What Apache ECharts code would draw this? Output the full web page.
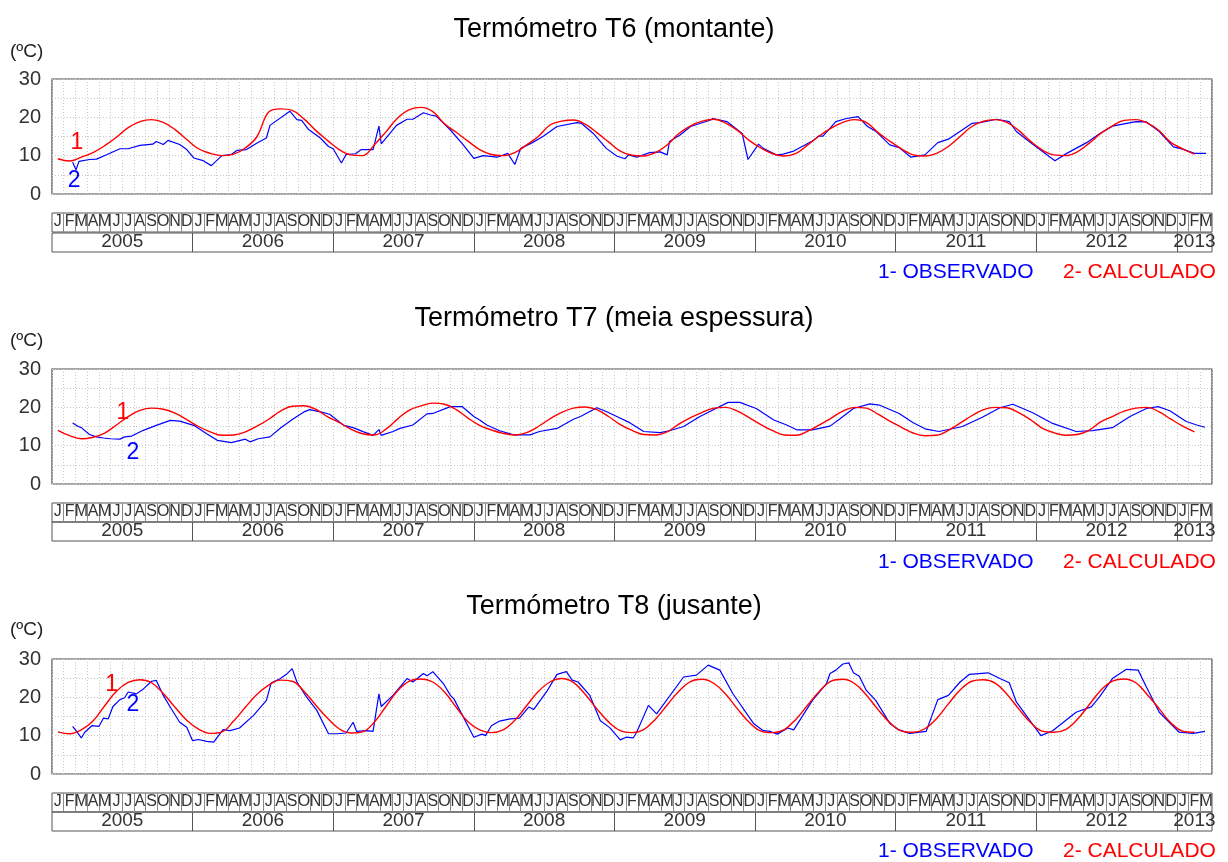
<!DOCTYPE html>
<html>
<head>
<meta charset="utf-8">
<script src="https://cdn.jsdelivr.net/npm/echarts@6/dist/echarts.min.js"></script>
<style>
  html, body { margin: 0; background: #fff; }
  #chart { width: 1228px; height: 862px; }
</style>
</head>
<body>
<div id="chart"></div>
<script>
// month letters of the table under each plot, years below them
var monthLetters = ['J', 'F', 'M', 'A', 'M', 'J', 'J', 'A', 'S', 'O', 'N', 'D'];
var years = ['2005', '2006', '2007', '2008', '2009', '2010', '2011', '2012', '2013'];
var monthsPerYear = [12, 12, 12, 12, 12, 12, 12, 12, 3];
var yTicks = [0, 10, 20, 30];

// calculated temperature, one value per month (middle of month), Jan 2005 on
var t6Calc = [9.2, 8.6, 9.6, 10.8, 12.6, 14.8, 17.3, 18.9, 19.4, 18.7, 16.8, 14.2,
  11.8, 10.6, 10.0, 10.4, 12.0, 15.0, 21.4, 22.2, 21.8, 19.6, 16.6, 14.0,
  11.6, 10.2, 10.0, 12.8, 16.2, 19.8, 22.0, 22.6, 21.5, 18.3, 16.1, 13.8,
  11.6, 10.3, 10.0, 10.8, 12.8, 15.0, 18.0, 19.0, 19.3, 18.2, 16.0, 13.6,
  11.2, 10.1, 9.9, 10.8, 12.8, 15.8, 17.8, 19.0, 19.5, 18.5, 16.6, 14.0,
  12.0, 10.5, 9.9, 10.6, 12.8, 15.2, 17.2, 18.7, 19.4, 18.7, 16.0, 13.8,
  11.8, 10.2, 9.9, 10.6, 12.4, 15.0, 17.6, 19.0, 19.4, 18.7, 16.6, 13.8,
  11.5, 10.2, 10.0, 11.0, 13.2, 15.8, 17.8, 19.2, 19.4, 18.5, 16.5, 13.4,
  11.8, 10.4];
var t7Calc = [14.0, 12.6, 11.8, 12.2, 13.3, 15.4, 17.6, 19.2, 19.8, 19.5, 18.5, 16.8,
  15.0, 13.6, 12.7, 12.8, 13.6, 15.1, 16.9, 19.0, 20.3, 20.4, 19.5, 17.6,
  16.1, 14.3, 13.1, 12.8, 14.3, 17.0, 19.3, 20.4, 21.1, 20.8, 19.4, 17.2,
  15.3, 14.1, 13.2, 12.8, 13.4, 15.0, 17.0, 18.7, 19.8, 20.1, 19.4, 17.6,
  15.5, 14.0, 12.9, 12.8, 13.6, 15.6, 17.3, 18.7, 19.8, 20.0, 19.0, 17.3,
  15.5, 13.9, 12.8, 12.7, 13.8, 15.4, 17.2, 19.0, 20.0, 19.8, 18.2, 16.4,
  14.8, 13.3, 12.6, 12.7, 14.0, 15.9, 17.8, 19.4, 20.0, 19.9, 18.6, 16.8,
  14.6, 13.4, 12.7, 12.9, 14.0, 16.2, 17.6, 19.0, 19.8, 20.0, 18.8, 16.9,
  15.1, 13.6];
var t8Calc = [11.0, 10.5, 11.5, 13.8, 17.8, 21.6, 23.9, 24.6, 23.8, 21.0, 17.4, 14.0,
  11.7, 10.6, 11.0, 13.8, 17.4, 20.8, 23.2, 24.5, 24.2, 21.6, 18.0, 14.6,
  11.8, 10.7, 11.0, 13.5, 17.6, 21.7, 24.2, 24.8, 24.0, 21.4, 17.4, 13.6,
  11.5, 10.8, 11.5, 14.0, 17.8, 21.5, 24.0, 24.9, 23.9, 20.8, 17.0, 13.6,
  11.3, 10.8, 11.6, 14.3, 18.0, 21.6, 24.1, 24.7, 23.6, 20.8, 17.0, 13.5,
  11.2, 10.8, 11.6, 14.3, 18.0, 21.6, 24.2, 24.7, 23.6, 20.6, 16.8, 13.4,
  11.2, 10.9, 11.8, 14.5, 18.3, 21.9, 24.2, 24.6, 23.7, 20.8, 17.0, 13.5,
  11.2, 10.9, 11.6, 14.2, 18.0, 21.8, 24.2, 24.8, 23.8, 20.6, 17.0, 13.3,
  11.2, 10.9];

// observed readings: [months since Jan 2005, temperature]
var t6Obs = [[1.76, 8.3], [2.05, 6.3], [2.3, 8.5], [3.2, 9.0], [3.8, 9.1], [4.7, 10.3], [5.8, 11.8], [6.5, 11.8],
  [7.5, 12.7], [8.6, 13.0], [8.9, 13.7], [9.5, 12.9], [9.9, 14.0], [10.9, 12.9], [11.5, 11.6], [12.1, 9.4],
  [12.9, 8.7], [13.6, 7.4], [14.5, 10.0], [15.3, 10.3], [15.8, 11.4], [16.6, 11.6], [17.5, 13.3], [18.3, 14.6],
  [18.6, 17.9], [20.3, 21.6], [20.9, 19.4], [21.3, 19.2], [21.9, 16.8], [22.9, 14.6], [23.6, 12.4], [24.0, 11.8],
  [24.7, 8.1], [25.1, 10.3], [25.9, 10.5], [26.4, 11.6], [27.4, 11.6], [27.9, 17.7], [28.1, 13.1], [29.4, 17.9],
  [30.3, 19.5], [30.8, 19.5], [31.7, 21.2], [32.3, 20.6], [32.8, 20.3], [34.0, 16.7], [35.1, 12.8], [36.0, 9.3],
  [36.8, 10.0], [38.0, 9.6], [38.9, 10.6], [39.5, 7.7], [40.0, 11.9], [41.0, 13.4], [41.9, 15.0], [43.1, 17.6],
  [44.8, 18.6], [45.2, 18.4], [46.2, 15.8], [47.3, 11.9], [48.2, 9.9], [48.9, 9.2], [49.2, 10.2], [49.9, 9.6],
  [51.0, 10.8], [51.9, 11.0], [52.5, 10.2], [52.7, 13.7], [53.6, 15.4], [54.5, 17.6], [56.2, 19.3], [56.4, 19.7],
  [57.6, 18.9], [58.9, 15.8], [59.4, 9.0], [60.3, 13.0], [60.7, 11.9], [61.8, 10.2], [62.4, 10.4], [63.3, 11.2],
  [64.1, 12.5], [65.0, 14.0], [65.4, 15.1], [65.8, 15.1], [66.9, 18.9], [67.8, 19.7], [68.8, 20.2], [69.6, 17.6],
  [70.3, 16.4], [71.5, 12.8], [72.3, 12.1], [73.3, 9.6], [74.5, 10.2], [75.6, 13.4], [76.5, 14.3], [78.5, 18.4],
  [79.2, 18.6], [80.6, 19.5], [81.7, 18.9], [82.3, 16.3], [83.7, 13.0], [85.6, 8.7], [86.6, 10.6], [88.3, 13.4],
  [89.4, 15.7], [90.5, 17.7], [92.5, 18.9], [93.4, 18.8], [94.5, 16.3], [95.7, 12.3], [96.5, 11.7], [97.5, 10.6],
  [98.5, 10.6]];
var t7Obs = [[1.76, 15.9], [1.96, 15.5], [2.25, 15.0], [2.5, 14.7], [2.6, 14.4], [3.2, 12.9], [3.8, 12.3], [4.4, 12.0],
  [4.95, 11.8], [5.8, 11.7], [6.2, 12.3], [6.8, 12.5], [7.8, 14.0], [8.9, 15.3], [10.1, 16.6], [10.9, 16.4],
  [12.1, 15.3], [13.2, 13.1], [14.1, 11.4], [15.3, 10.8], [16.5, 11.7], [16.9, 11.0], [17.6, 11.8], [18.6, 12.3],
  [19.5, 14.6], [20.6, 17.0], [21.5, 18.8], [22.0, 19.4], [22.9, 18.8], [23.7, 18.2], [24.9, 15.3], [25.7, 14.7],
  [26.6, 13.6], [27.4, 12.7], [27.9, 14.2], [28.1, 12.7], [29.1, 13.7], [29.7, 14.5], [30.8, 15.4], [32.0, 18.3],
  [32.5, 18.4], [34.0, 20.2], [35.0, 20.2], [36.0, 17.6], [36.5, 16.7], [37.1, 15.4], [38.2, 13.9], [39.4, 12.8],
  [40.8, 12.8], [41.6, 13.7], [43.1, 14.5], [44.5, 16.9], [45.1, 17.6], [46.5, 19.9], [47.3, 18.9], [48.2, 17.6],
  [49.3, 16.0], [50.5, 13.7], [51.9, 13.4], [52.7, 13.9], [53.9, 15.0], [55.3, 17.6], [56.4, 19.3], [57.7, 21.3],
  [58.7, 21.3], [60.1, 19.7], [61.6, 16.7], [62.7, 15.4], [63.6, 14.1], [64.9, 14.1], [66.4, 15.1], [67.2, 16.9],
  [68.4, 19.7], [69.8, 20.9], [70.6, 20.6], [72.3, 18.4], [73.5, 16.0], [74.6, 14.3], [75.7, 13.7], [77.7, 15.0],
  [79.4, 17.4], [80.9, 19.9], [82.0, 20.8], [83.7, 18.6], [85.4, 15.8], [87.4, 13.7], [88.8, 13.9], [90.5, 14.7],
  [92.0, 17.6], [93.4, 19.7], [94.4, 20.2], [95.4, 19.1], [96.8, 16.3], [97.7, 15.4], [98.4, 14.8]];
var t8Obs = [[1.76, 12.4], [2.1, 11.1], [2.5, 9.4], [2.8, 10.9], [3.4, 12.6], [4.0, 12.4], [4.4, 14.6], [4.8, 14.4],
  [5.2, 17.6], [5.8, 19.4], [6.2, 19.9], [6.5, 21.4], [7.2, 20.9], [7.8, 22.2], [8.5, 24.2], [8.9, 24.4],
  [9.5, 20.5], [10.1, 17.4], [10.9, 13.5], [11.5, 12.2], [12.0, 8.7], [12.5, 9.0], [13.2, 8.5], [13.8, 8.3],
  [14.6, 11.6], [15.2, 11.3], [16.0, 12.0], [17.2, 15.3], [18.3, 19.2], [18.7, 23.7], [19.5, 24.9], [20.0, 26.0],
  [20.5, 27.5], [20.9, 24.0], [21.7, 20.2], [22.6, 16.6], [23.6, 10.5], [24.3, 10.5], [25.1, 10.7], [25.7, 13.5],
  [26.0, 11.1], [26.9, 11.3], [27.4, 11.1], [27.9, 20.9], [28.1, 17.6], [29.1, 20.5], [30.3, 24.9], [30.8, 24.0],
  [31.7, 26.2], [32.0, 25.6], [32.5, 26.7], [33.4, 23.6], [34.0, 20.5], [34.3, 19.6], [36.0, 9.6], [36.7, 10.4],
  [37.0, 10.0], [37.5, 12.6], [38.2, 13.8], [39.1, 14.4], [39.9, 14.6], [40.7, 17.5], [41.1, 16.8], [42.2, 21.4],
  [43.1, 26.0], [43.9, 26.7], [44.4, 24.5], [44.9, 24.0], [45.9, 20.5], [46.8, 13.9], [47.6, 12.1], [48.5, 8.9],
  [49.0, 9.6], [49.6, 9.4], [49.9, 10.9], [50.9, 17.9], [51.6, 15.7], [53.9, 25.3], [55.0, 25.8], [56.0, 28.4],
  [57.0, 27.1], [58.1, 21.0], [59.9, 13.1], [60.7, 11.3], [61.3, 11.1], [61.9, 10.4], [62.8, 12.0], [63.3, 11.5],
  [64.9, 19.2], [66.1, 23.6], [66.4, 26.2], [66.9, 27.1], [67.5, 28.7], [68.0, 29.0], [68.4, 26.4], [68.9, 25.5],
  [69.5, 21.8], [70.3, 19.2], [71.5, 13.2], [72.3, 11.5], [73.2, 10.6], [74.6, 11.1], [75.6, 19.4], [76.5, 20.5],
  [77.5, 24.0], [78.3, 26.0], [79.9, 26.4], [80.9, 24.9], [81.7, 23.8], [82.3, 18.8], [84.4, 10.0], [85.4, 11.3],
  [87.4, 16.1], [88.7, 17.5], [89.4, 20.1], [90.5, 24.9], [91.7, 27.3], [92.7, 27.1], [93.4, 22.7], [94.5, 16.1],
  [96.2, 10.9], [97.4, 10.6], [98.4, 11.1]];

// curve numbers written next to the curves: [month, temperature, text]
var t6Marks = [[2.13, 13.3, '1'], [1.88, 3.6, '2']];
var t7Marks = [[6.06, 18.5, '1'], [6.9, 8.1, '2']];
var t8Marks = [[5.1, 23.2, '1'], [6.9, 18.2, '2']];

var titles = ['Termómetro T6 (montante)', 'Termómetro T7 (meia espessura)', 'Termómetro T8 (jusante)'];
var legendText = ['1- OBSERVADO', '2- CALCULADO'];

var FONT = '"Liberation Sans", Arial, sans-serif';
var RED = '#ff0000', BLUE = '#0000ff';

var panels = [
  { calc: t6Calc, obs: t6Obs, marks: t6Marks, titleY: 30, unitY: 52, top: 79, monthTop: 213, yearTop: 233, legendY: 272 },
  { calc: t7Calc, obs: t7Obs, marks: t7Marks, titleY: 319, unitY: 341, top: 369, monthTop: 503, yearTop: 522, legendY: 562 },
  { calc: t8Calc, obs: t8Obs, marks: t8Marks, titleY: 607, unitY: 630, top: 659, monthTop: 793, yearTop: 812, legendY: 851 }
];

var totalMonths = monthsPerYear.reduce(function (a, b) { return a + b; }, 0);
var monthCenters = [], monthEdges = [];
for (var i = 0; i < totalMonths; i++) {
  monthCenters.push(i + 0.5);
  if (i > 0) monthEdges.push(i);
}
var yearCenters = [], yearEdges = [], start = 0;
monthsPerYear.forEach(function (n, k) {
  yearCenters.push(start + n / 2);
  start += n;
  if (k < monthsPerYear.length - 1) yearEdges.push(start);
});

var grid = [], xAxis = [], yAxis = [], series = [], graphic = [];
var L = 52, R = 16;

panels.forEach(function (p, k) {
  var g = k * 3;
  // main plot
  grid.push({ left: L, right: R, top: p.top, height: 115, show: true, borderColor: '#4a4a4a', borderWidth: 1.2 });
  xAxis.push({
    gridIndex: g, type: 'value', min: 0, max: totalMonths, interval: 1,
    axisLine: { show: false }, axisTick: { show: false }, axisLabel: { show: false },
    splitLine: { show: true, lineStyle: { color: '#c8c8c8', type: [1, 2], width: 1 } }
  });
  yAxis.push({
    gridIndex: g, type: 'value', min: 0, max: 30, interval: 5,
    axisLine: { show: false }, axisTick: { show: false },
    axisLabel: {
      fontSize: 20, color: '#333', fontFamily: FONT, margin: 11,
      formatter: function (v) { return yTicks.indexOf(v) >= 0 ? String(v) : ''; }
    },
    splitLine: { show: true, lineStyle: { color: '#c8c8c8', type: [1, 2], width: 1 } }
  });
  // month row
  grid.push({ left: L, right: R, top: p.monthTop, height: 19, show: true, borderColor: '#555', borderWidth: 1 });
  xAxis.push({
    gridIndex: g + 1, type: 'value', min: 0, max: totalMonths,
    axisLine: { show: false }, splitLine: { show: false },
    axisTick: { show: true, inside: true, length: 19, customValues: monthEdges, lineStyle: { color: '#8a8a8a' } },
    axisLabel: {
      customValues: monthCenters, margin: -10, verticalAlign: 'middle', fontSize: 16, color: '#333', fontFamily: FONT,
      formatter: function (v) { return monthLetters[Math.floor(v) % 12]; }
    }
  });
  yAxis.push({ gridIndex: g + 1, show: false, min: 0, max: 1 });
  // year row
  grid.push({ left: L, right: R, top: p.yearTop, height: 19, show: true, borderColor: '#555', borderWidth: 1 });
  xAxis.push({
    gridIndex: g + 2, type: 'value', min: 0, max: totalMonths,
    axisLine: { show: false }, splitLine: { show: false },
    axisTick: { show: true, inside: true, length: 19, customValues: yearEdges, lineStyle: { color: '#555' } },
    axisLabel: {
      customValues: yearCenters, margin: -10, verticalAlign: 'middle', fontSize: 19, color: '#333', fontFamily: FONT,
      formatter: function (v) { return years[yearCenters.indexOf(v)]; }
    }
  });
  yAxis.push({ gridIndex: g + 2, show: false, min: 0, max: 1 });

  series.push({
    type: 'line', xAxisIndex: g, yAxisIndex: g, showSymbol: false, silent: true,
    data: p.obs, lineStyle: { color: BLUE, width: 1.2 }, z: 3
  });
  series.push({
    type: 'line', xAxisIndex: g, yAxisIndex: g, showSymbol: false, silent: true, smooth: 0.4,
    data: p.calc.map(function (v, i) { return [i + 0.5, v]; }),
    lineStyle: { color: RED, width: 1.4 }, z: 4
  });
  // curve numbers
  series.push({
    type: 'scatter', xAxisIndex: g, yAxisIndex: g, symbolSize: 2, silent: true,
    itemStyle: { color: 'rgba(0,0,0,0)' },
    data: p.marks.map(function (m) {
      return {
        value: [m[0], m[1]], name: m[2],
        label: { color: m[2] === '1' ? RED : BLUE }
      };
    }),
    label: {
      show: true, position: 'inside', fontSize: 23, fontFamily: FONT,
      textBorderWidth: 0, textShadowBlur: 0, opacity: 1,
      formatter: function (d) { return d.name; }
    },
    z: 5
  });

  graphic.push({
    type: 'text', x: 614, y: p.titleY,
    style: { text: titles[k], font: '27px ' + FONT, fill: '#000', align: 'center', verticalAlign: 'middle', textAlign: 'center', textVerticalAlign: 'middle' }
  });
  graphic.push({
    type: 'text', x: 10, y: p.unitY,
    style: { text: '(ºC)', font: '19px ' + FONT, fill: '#222', align: 'left', verticalAlign: 'middle', textAlign: 'left', textVerticalAlign: 'middle' }
  });
  graphic.push({
    type: 'text', x: 878, y: p.legendY,
    style: { text: legendText[0], font: '21px ' + FONT, fill: BLUE, align: 'left', verticalAlign: 'middle', textAlign: 'left', textVerticalAlign: 'middle' }
  });
  graphic.push({
    type: 'text', x: 1063, y: p.legendY,
    style: { text: legendText[1], font: '21px ' + FONT, fill: RED, align: 'left', verticalAlign: 'middle', textAlign: 'left', textVerticalAlign: 'middle' }
  });
});

var chart = echarts.init(document.getElementById('chart'), null, { renderer: 'canvas' });
chart.setOption({
  backgroundColor: '#fff',
  animation: false,
  grid: grid,
  xAxis: xAxis,
  yAxis: yAxis,
  series: series,
  graphic: graphic
});
</script>
</body>
</html>
